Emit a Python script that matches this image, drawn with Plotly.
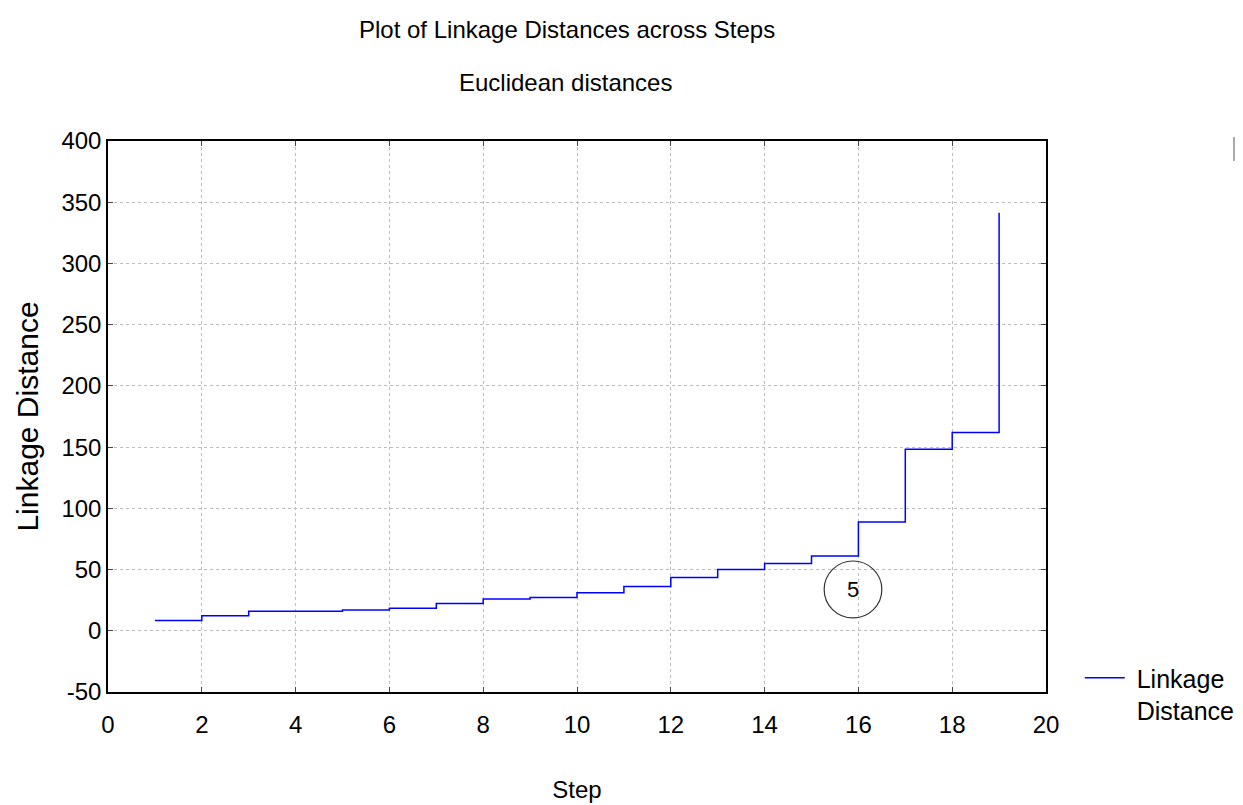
import plotly.graph_objects as go

steps = list(range(1, 20))
linkage_distance = [8.4, 12.2, 16.0, 16.0, 17.0, 18.4, 22.2, 26.0, 27.2, 31.0,
                    36.2, 43.5, 50.0, 54.9, 61.1, 88.9, 148.2, 162.0, 341.5]
x_ticks = list(range(0, 21, 2))
y_ticks = list(range(-50, 401, 50))
y_tick_labels = [str(v) for v in y_ticks]

narrow = "Liberation Sans Narrow, Arial Narrow, Liberation Sans, sans-serif"
regular = "Liberation Sans, Arial, sans-serif"

fig = go.Figure()
fig.add_trace(go.Scatter(
    x=steps, y=linkage_distance, mode="lines", line_shape="hv",
    line=dict(color="#0000ff", width=1.5),
    name="&nbsp;Linkage<br>&nbsp;Distance",
))

fig.add_shape(type="circle", xref="x", yref="y",
              x0=15.27, x1=16.5, y0=10.5, y1=57.0,
              line=dict(color="#333333", width=1.2))

fig.add_shape(type="rect", xref="paper", yref="paper",
              x0=(1234 - 108) / 938, x1=(1246 - 108) / 938,
              y0=(692 - 160) / 551, y1=(692 - 138) / 551,
              line=dict(color="#aaaaaa", width=2))

fig.update_layout(
    width=1243, height=805,
    margin=dict(l=100, r=205, t=133, b=121, autoexpand=False),
    paper_bgcolor="white", plot_bgcolor="white",
    annotations=[
        dict(x=15.88, y=33.8, xref="x", yref="y", text="5", showarrow=False,
             font=dict(family=regular, size=22, color="#000000")),
        dict(text="Plot of Linkage Distances across Steps", xref="paper", yref="paper",
             x=(567 - 108) / 938, y=(692 - 30) / 551, yanchor="middle", showarrow=False,
             font=dict(family=narrow, size=24, color="#000000")),
        dict(text="Euclidean distances", xref="paper", yref="paper",
             x=(565 - 108) / 938, y=(692 - 82) / 551, yanchor="middle", showarrow=False,
             font=dict(family=narrow, size=24, color="#000000")),
    ],
    showlegend=True,
    legend=dict(x=1.036, y=0.067, xanchor="left", yanchor="top", valign="top",
                itemwidth=40,
                font=dict(family=narrow, size=25, color="#000000"),
                bgcolor="rgba(0,0,0,0)"),
    xaxis=dict(
        range=[0, 20], tickvals=x_ticks, ticks="inside", ticklen=5,
        showline=True, linecolor="black", linewidth=1.5, mirror="ticks",
        showgrid=True, gridcolor="#bdbdbd", griddash="dot", gridwidth=1,
        zeroline=False, ticklabelstandoff=10, automargin=False,
        tickfont=dict(family=narrow, size=24, color="#000000"),
        title=dict(text="Step", font=dict(family=narrow, size=24, color="#000000"), standoff=45),
    ),
    yaxis=dict(
        range=[-50, 400], tickvals=y_ticks, ticktext=y_tick_labels, ticks="inside", ticklen=5,
        showline=True, linecolor="black", linewidth=1.5, mirror="ticks",
        showgrid=True, gridcolor="#bdbdbd", griddash="dot", gridwidth=1,
        zeroline=False, automargin=False,
        tickfont=dict(family=narrow, size=24, color="#000000"),
        title=dict(text="Linkage Distance", font=dict(family=regular, size=30, color="#000000"), standoff=14),
    ),
)

fig.write_html("out.html")
